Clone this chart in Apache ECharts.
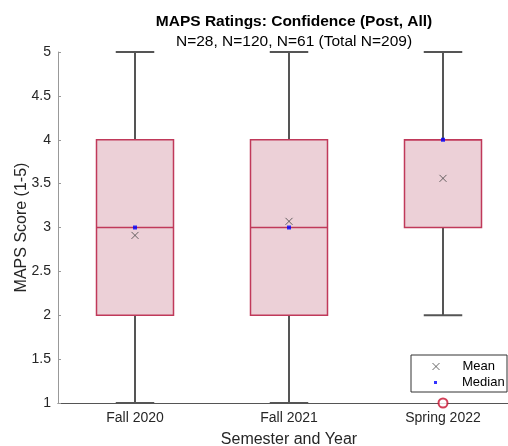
<!DOCTYPE html>
<html>
<head>
<meta charset="utf-8">
<script src="https://cdn.jsdelivr.net/npm/echarts@6/dist/echarts.min.js"></script>
<style>
html, body { margin: 0; padding: 0; background: #fff; }
#chart { width: 508px; height: 446px; }
</style>
</head>
<body>
<div id="chart"></div>
<script>
// values
const categories = ['Fall 2020', 'Fall 2021', 'Spring 2022'];
const whiskerLow = [1, 1, 2];
const q1 = [2, 2, 3];
const medians = [3, 3, 4];
const q3 = [4, 4, 4];
const whiskerHigh = [5, 5, 5];
const means = [2.91, 3.07, 3.56];
const outliers = [['Spring 2022', 1]];
const yTicks = { min: 1, max: 5, step: 0.5 };

const boxColor = '#c0395a';
const boxFill = '#ecd0d7';
const whiskerColor = '#555555';
const crossPath = 'path://M0,0L10,10M0,10L10,0';
const font = 'Liberation Sans, Arial, sans-serif';

const boxData = categories.map(function (c, i) {
	return [i, whiskerLow[i], q1[i], medians[i], q3[i], whiskerHigh[i]];
});

function renderBox(params, api) {
	let i = api.value(0);
	let lo = api.coord([i, api.value(1)]);
	let b1 = api.coord([i, api.value(2)]);
	let md = api.coord([i, api.value(3)]);
	let b3 = api.coord([i, api.value(4)]);
	let hi = api.coord([i, api.value(5)]);
	let band = api.size([1, 0])[0];
	let bw = band * 0.5, cw = band * 0.25;
	let x = lo[0];
	let wStyle = { stroke: whiskerColor, lineWidth: 2 };
	let children = [
		{ type: 'line', shape: { x1: x, y1: hi[1], x2: x, y2: b3[1] }, style: wStyle },
		{ type: 'line', shape: { x1: x, y1: b1[1], x2: x, y2: lo[1] }, style: wStyle },
		{ type: 'line', shape: { x1: x - cw / 2, y1: hi[1], x2: x + cw / 2, y2: hi[1] }, style: wStyle },
		{ type: 'line', shape: { x1: x - cw / 2, y1: lo[1], x2: x + cw / 2, y2: lo[1] }, style: wStyle },
		{ type: 'rect', shape: { x: x - bw / 2, y: b3[1], width: bw, height: b1[1] - b3[1] },
			style: { fill: boxFill, stroke: boxColor, lineWidth: 1.5 } },
		{ type: 'line', shape: { x1: x - bw / 2, y1: md[1], x2: x + bw / 2, y2: md[1] },
			style: { stroke: boxColor, lineWidth: 1.5 } }
	];
	return { type: 'group', children: children };
}

const chart = echarts.init(document.getElementById('chart'));
chart.setOption({
	animation: false,
	textStyle: { fontFamily: font },
	title: {
		text: 'MAPS Ratings: Confidence (Post, All)',
		subtext: 'N=28, N=120, N=61 (Total N=209)',
		left: 289,
		textAlign: 'center',
		top: 9,
		itemGap: 4,
		textStyle: { fontSize: 15.5, fontWeight: 'bold', color: '#000', fontFamily: font },
		subtextStyle: { fontSize: 15.5, color: '#000', fontFamily: font }
	},
	grid: { left: 58, top: 52, width: 462, height: 351, containLabel: false, outerBoundsMode: 'none' },
	legend: [{
		data: [{ name: 'Mean', icon: crossPath }],
		orient: 'vertical',
		left: 432, top: 360, padding: 0,
		itemWidth: 7, itemHeight: 7,
		z: 20,
		itemStyle: { color: 'rgba(0,0,0,0)', borderColor: '#444', borderWidth: 1 },
		textStyle: { fontSize: 13, color: '#000', padding: [0, 0, 0, 18] }
	}, {
		data: [{ name: 'Median', icon: 'rect' }],
		orient: 'vertical',
		left: 434, top: 376, padding: 0,
		itemWidth: 3, itemHeight: 3,
		z: 20,
		textStyle: { fontSize: 13, color: '#000', padding: [0, 0, 0, 20] }
	}],
	graphic: [{
		type: 'rect',
		shape: { x: 411, y: 355, width: 96, height: 37 },
		style: { fill: '#fff', stroke: '#333', lineWidth: 1 },
		z: 10
	}],
	xAxis: {
		type: 'category',
		data: categories,
		boundaryGap: true,
		name: 'Semester and Year',
		nameLocation: 'middle',
		nameGap: 29,
		nameMoveOverlap: false,
		nameTextStyle: { fontSize: 16, color: '#262626' },
		axisLine: { lineStyle: { color: '#555', width: 1 } },
		axisTick: { show: false },
		axisLabel: { fontSize: 14, color: '#262626', margin: 8 },
		splitLine: { show: false }
	},
	yAxis: {
		type: 'value',
		min: yTicks.min,
		max: yTicks.max,
		interval: yTicks.step,
		name: 'MAPS Score (1-5)',
		nameLocation: 'middle',
		nameGap: 28,
		nameMoveOverlap: false,
		nameTextStyle: { fontSize: 16, color: '#262626' },
		axisLine: { show: true, lineStyle: { color: '#999', width: 1 } },
		axisTick: { show: true, inside: true, length: 3, lineStyle: { color: '#999' } },
		axisLabel: { fontSize: 14, color: '#262626', margin: 7 },
		splitLine: { show: false }
	},
	series: [{
		type: 'custom',
		name: 'box',
		renderItem: renderBox,
		data: boxData,
		encode: { x: 0, y: [1, 2, 3, 4, 5] },
		z: 2
	}, {
		type: 'scatter',
		name: 'Mean',
		data: means.map(function (m, i) { return [categories[i], m]; }),
		symbol: crossPath,
		symbolSize: 7,
		itemStyle: { color: 'rgba(0,0,0,0)', borderColor: '#444', borderWidth: 1 },
		z: 5
	}, {
		type: 'scatter',
		name: 'Median',
		data: medians.map(function (m, i) { return [categories[i], m]; }),
		symbol: 'rect',
		symbolSize: 4,
		itemStyle: { color: '#0000ff' },
		z: 6
	}, {
		type: 'scatter',
		name: 'Outlier',
		data: outliers,
		symbol: 'emptyCircle',
		symbolSize: 9,
		itemStyle: { color: '#c8102e', borderWidth: 1.3 },
		z: 6
	}]
});
</script>
</body>
</html>
